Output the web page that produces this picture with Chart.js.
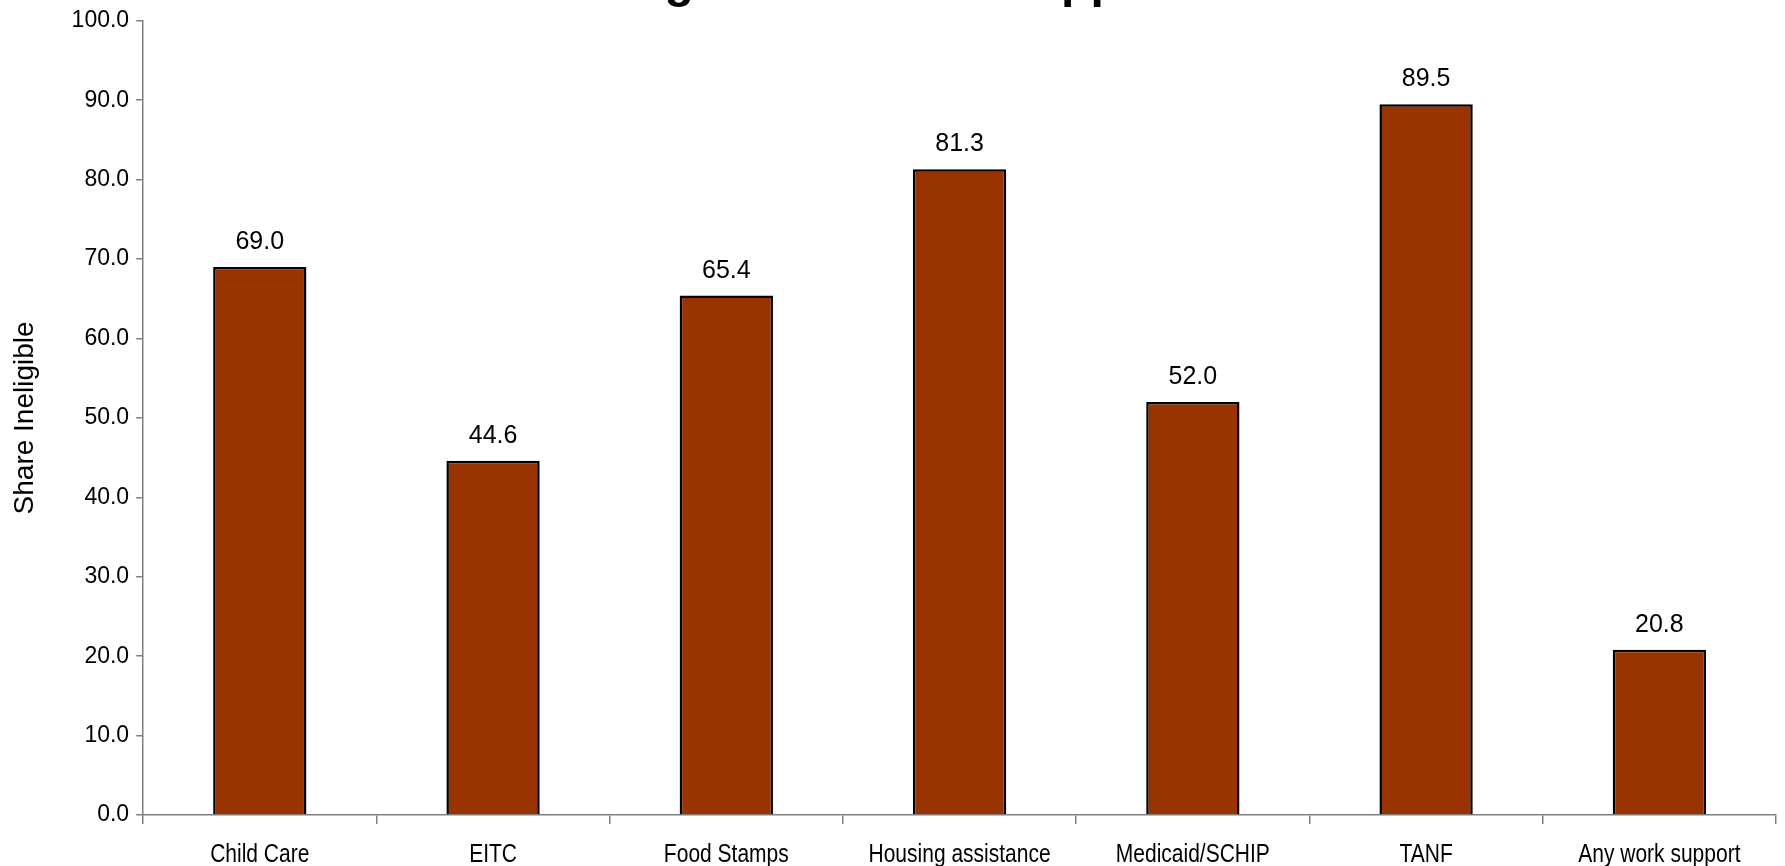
<!DOCTYPE html>
<html>
<head>
<meta charset="utf-8">
<script src="https://cdn.jsdelivr.net/npm/chart.js@4.4.1/dist/chart.umd.min.js"></script>
<style>
    html, body { margin: 0; padding: 0; background: #fff; }
    #wrap { position: relative; width: 1785px; height: 866px; }
</style>
</head>
<body>
<div id="wrap"><canvas id="chartIneligible"></canvas></div>
<script>
const chartTitle = 'Ineligible for Work Supports';
const yAxisTitle = 'Share Ineligible';
const programas = ['Child Care', 'EITC', 'Food Stamps', 'Housing assistance', 'Medicaid/SCHIP', 'TANF', 'Any work support'];
const shareIneligible = [69.0, 44.6, 65.4, 81.3, 52.0, 89.5, 20.8];

const fuente = "'Liberation Sans', Arial, sans-serif";
const gris = '#808080';

// titulo: solo asoman los descendentes en la imagen original
const tituloPlugin = {
    id: 'tituloCortado',
    afterDraw(chart) {
        const ctx = chart.ctx;
        ctx.save();
        ctx.font = "bold 48px " + fuente;
        ctx.fillStyle = '#000';
        ctx.textAlign = 'center';
        ctx.textBaseline = 'alphabetic';
        ctx.fillText(chartTitle, chart.width / 2 - 3, -3);
        ctx.restore();
    }
};

// etiquetas del eje x en letra estrecha (no hay Arial Narrow instalada)
const etiquetasXPlugin = {
    id: 'etiquetasX',
    afterDraw(chart) {
        const ctx = chart.ctx;
        const xScale = chart.scales.x;
        const escala = 0.84;
        ctx.save();
        ctx.font = "25px " + fuente;
        ctx.fillStyle = '#000';
        ctx.textAlign = 'center';
        ctx.textBaseline = 'alphabetic';
        programas.forEach((p, i) => {
            const x = xScale.getPixelForTick(i);
            ctx.save();
            ctx.translate(x, xScale.bottom + 38);
            ctx.scale(escala, 1);
            ctx.fillText(p, 0, 0);
            ctx.restore();
        });
        ctx.restore();
    }
};

// etiquetas de valor encima de cada barra
const etiquetasPlugin = {
    id: 'etiquetasValor',
    afterDatasetsDraw(chart) {
        const ctx = chart.ctx;
        const meta = chart.getDatasetMeta(0);
        ctx.save();
        ctx.font = "25px " + fuente;
        ctx.fillStyle = '#000';
        ctx.textAlign = 'center';
        ctx.textBaseline = 'alphabetic';
        meta.data.forEach((bar, i) => {
            ctx.fillText(shareIneligible[i].toFixed(1), bar.x, bar.y - 18);
        });
        ctx.restore();
    }
};

const ctx1 = document.getElementById('chartIneligible').getContext('2d');
new Chart(ctx1, {
    type: 'bar',
    data: {
        labels: programas,
        datasets: [{
            label: yAxisTitle,
            data: shareIneligible,
            backgroundColor: '#993300',
            borderColor: '#000000',
            borderWidth: 2.5,
            borderSkipped: 'bottom',
            categoryPercentage: 1.0,
            barPercentage: 0.4
        }]
    },
    options: {
        responsive: true,
        maintainAspectRatio: false,
        animation: false,
        layout: { padding: { top: 15, right: 9, left: 4, bottom: 42 } },
        plugins: {
            legend: { display: false },
            tooltip: { enabled: false }
        },
        scales: {
            x: {
                offset: true,
                grid: {
                    offset: true,
                    drawOnChartArea: false,
                    drawTicks: true,
                    tickLength: 9,
                    color: gris,
                    lineWidth: 1.5
                },
                border: { display: true, color: gris, width: 1.5 },
                ticks: { display: false }
            },
            y: {
                min: 0,
                max: 100,
                grid: {
                    drawOnChartArea: false,
                    drawTicks: true,
                    tickLength: 7,
                    color: gris,
                    lineWidth: 1.5
                },
                border: { display: true, color: gris, width: 1.5 },
                ticks: {
                    stepSize: 10,
                    color: '#000',
                    padding: 7,
                    font: { family: fuente, size: 23 },
                    callback: v => v.toFixed(1)
                },
                title: {
                    display: true,
                    text: yAxisTitle,
                    color: '#000',
                    font: { family: fuente, size: 28 },
                    padding: { top: 4, bottom: 23 }
                }
            }
        }
    },
    plugins: [tituloPlugin, etiquetasPlugin, etiquetasXPlugin]
});
</script>
</body>
</html>
